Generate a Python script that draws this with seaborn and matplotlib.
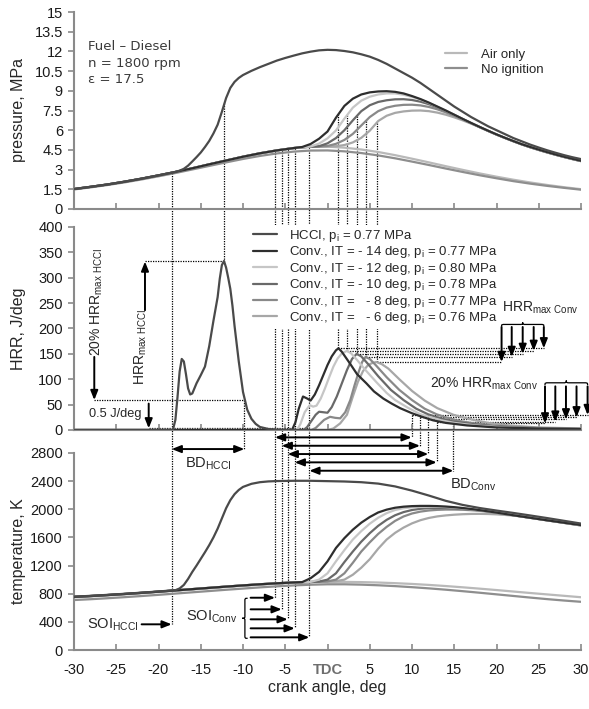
import matplotlib
matplotlib.use('Agg')
import matplotlib.pyplot as plt
import seaborn as sns
from matplotlib.path import Path
from matplotlib.patches import PathPatch

# ---------------- data ----------------
x_even = list(range(-30, 31, 2))
p_air = [1.52, 1.69, 1.87, 2.08, 2.31, 2.56, 2.82, 3.10, 3.40, 3.69, 3.98, 4.24, 4.46, 4.64, 4.74, 4.75,
         4.67, 4.53, 4.34, 4.10, 3.83, 3.55, 3.26, 2.98, 2.71, 2.46, 2.23, 2.02, 1.83, 1.66, 1.51]
p_noig = [1.49, 1.65, 1.83, 2.03, 2.25, 2.49, 2.74, 3.01, 3.28, 3.55, 3.81, 4.04, 4.23, 4.37, 4.45, 4.46,
          4.39, 4.26, 4.08, 3.86, 3.61, 3.35, 3.08, 2.82, 2.57, 2.34, 2.12, 1.93, 1.76, 1.61, 1.47]

x_hp = [-30, -28, -26, -24, -22, -20, -18, -17.5, -17, -16.5, -16, -15.5, -15, -14.5, -14, -13.5, -13,
        -12.5, -12, -11.5, -11, -10.5, -10] + list(range(-9, 31))
p_hcci = [1.52, 1.69, 1.87, 2.08, 2.31, 2.56, 2.82, 2.92, 3.06, 3.3, 3.62, 3.95, 4.3, 4.72, 5.18, 5.75, 6.42,
          7.4, 8.45, 9.22, 9.68, 9.98, 10.2,
          10.52, 10.8, 11.05, 11.3, 11.5, 11.68, 11.85, 11.98, 12.08, 12.12,
          12.1, 12.03, 11.93, 11.78, 11.6, 11.35, 11.05, 10.7, 10.35, 10.0,
          9.6, 9.15, 8.7, 8.25, 7.8, 7.4, 7.0, 6.65, 6.3, 6.0,
          5.7, 5.4, 5.15, 4.9, 4.68, 4.47, 4.28, 4.1, 3.94, 3.8]

x_pc = list(range(-30, -3, 2))
p_comp = [1.52, 1.69, 1.87, 2.08, 2.31, 2.56, 2.82, 3.10, 3.40, 3.69, 3.98, 4.24, 4.46, 4.64]
x_tail = list(range(-3, 31))
p_c14 = [4.72, 4.95, 5.35, 5.9, 6.95, 7.85, 8.4, 8.72, 8.88, 8.95,
         8.97, 8.92, 8.8, 8.6, 8.37, 8.1, 7.8, 7.5, 7.18, 6.86,
         6.55, 6.25, 5.96, 5.68, 5.42, 5.17, 4.93, 4.72, 4.52, 4.33, 4.15, 3.98, 3.82, 3.67]
p_c12 = [4.70, 4.76, 4.98, 5.38, 5.98, 6.88, 7.72, 8.25, 8.55, 8.72,
         8.8, 8.8, 8.7, 8.54, 8.34, 8.08, 7.79, 7.49, 7.17, 6.85,
         6.54, 6.24, 5.95, 5.67, 5.41, 5.16, 4.92, 4.7, 4.5, 4.31, 4.13, 3.96, 3.8, 3.65]
p_c10 = [4.70, 4.74, 4.78, 5.0, 5.4, 6.0, 6.75, 7.45, 7.9, 8.15,
         8.28, 8.35, 8.36, 8.3, 8.17, 7.98, 7.74, 7.46, 7.16, 6.85,
         6.54, 6.24, 5.95, 5.67, 5.41, 5.16, 4.92, 4.7, 4.5, 4.31, 4.13, 3.96, 3.8, 3.65]
p_c8 = [4.70, 4.74, 4.76, 4.8, 4.96, 5.26, 5.72, 6.36, 7.0, 7.45,
        7.72, 7.86, 7.93, 7.94, 7.89, 7.77, 7.59, 7.36, 7.1, 6.82,
        6.53, 6.24, 5.95, 5.67, 5.41, 5.16, 4.92, 4.7, 4.5, 4.31, 4.13, 3.96, 3.8, 3.65]
p_c6 = [4.70, 4.74, 4.76, 4.76, 4.78, 4.87, 5.07, 5.42, 5.96, 6.7,
        7.1, 7.32, 7.43, 7.49, 7.5, 7.45, 7.34, 7.18, 6.98, 6.75,
        6.5, 6.23, 5.95, 5.67, 5.41, 5.16, 4.92, 4.7, 4.5, 4.31, 4.13, 3.96, 3.8, 3.65]

# heat release rate, J/deg
x_h_hcci = [-30, -18.3, -18.0, -17.75, -17.5, -17.25, -17.0, -16.75, -16.5, -16.25, -16.0, -15.75, -15.5,
            -15.0, -14.5, -14.0, -13.5, -13.0, -12.75, -12.5, -12.25, -12.0, -11.75, -11.5, -11.25, -11.0,
            -10.5, -10.0, -9.5, -9.0, -8.5, -8.0, -7.0, -6.0, -5.0, 30]
h_hcci = [0, 0, 20, 65, 115, 140, 135, 110, 82, 70, 72, 82, 92, 108, 125, 165, 215, 262, 298, 325, 333,
          320, 300, 278, 245, 205, 135, 75, 40, 22, 12, 6, 2, 0.5, 0, 0]
x_h14 = [-30, -4.2, -3.8, -3.4, -2.9, -2.4, -2.0, -1.5, -1.0, -0.5, 0.0, 0.5, 1.0, 1.3, 1.7, 2.2, 2.7, 3.5,
         4.6, 5.5, 6.6, 7.6, 8.6, 10.0, 11.0, 12.5, 14.0, 16.5, 20.0, 25.0, 30.0]
h_c14 = [0, 0, 15, 42, 66, 62, 58, 70, 88, 108, 128, 145, 157, 161, 154, 142, 130, 110, 92, 76, 62, 52, 43,
         33, 27, 19, 14, 9, 5, 3, 2]
x_h12 = [-30, -3.6, -3.2, -2.7, -2.1, -1.7, -1.3, -0.8, -0.3, 0.2, 0.7, 1.2, 1.7, 2.3, 2.8, 3.5, 4.5, 5.8,
         7.0, 8.0, 9.5, 11.0, 12.0, 13.5, 15.0, 17.5, 21.0, 25.0, 30.0]
h_c12 = [0, 0, 12, 35, 49, 46, 48, 62, 82, 104, 125, 141, 151, 156, 151, 138, 118, 94, 73, 59, 44, 31, 26,
         19, 14, 9, 5, 3, 2]
x_h10 = [-30, -2.8, -2.4, -1.9, -1.4, -1.0, -0.5, 0.0, 0.5, 1.1, 1.7, 2.3, 2.9, 3.45, 4.0, 4.8, 6.0, 7.5,
         9.0, 10.5, 11.9, 13.0, 14.5, 16.0, 18.5, 22.0, 26.0, 30.0]
h_c10 = [0, 0, 6, 18, 30, 36, 35, 34, 45, 66, 92, 118, 140, 150, 145, 130, 106, 79, 59, 42, 31, 25, 18, 14,
         9, 5, 3, 2]
x_h8 = [-30, -1.9, -1.4, -0.9, -0.4, 0.3, 0.9, 1.5, 2.1, 2.7, 3.2, 3.7, 4.1, 4.5, 5.0, 5.7, 7.0, 8.5, 10.0,
        11.5, 12.9, 14.0, 15.5, 17.0, 19.5, 23.0, 27.0, 30.0]
h_c8 = [0, 0, 4, 12, 20, 26, 24, 23, 35, 59, 88, 115, 134, 144, 140, 128, 104, 79, 59, 42, 31, 25, 18, 14,
        9, 5, 3, 2]
x_h6 = [-30, 0.0, 0.7, 1.5, 2.3, 3.0, 3.6, 4.2, 4.8, 5.3, 5.8, 6.4, 7.2, 8.5, 10.0, 11.5, 13.0, 14.9, 16.0,
        17.5, 19.0, 21.5, 25.0, 30.0]
h_c6 = [0, 0, 3, 13, 30, 66, 95, 116, 128, 132, 134, 130, 121, 100, 77, 58, 43, 30, 25, 19, 14, 9, 5, 3]

# temperature, K
T_air = [750, 762, 776, 791, 807, 824, 842, 860, 878, 896, 913, 929, 943, 955, 964, 968,
         968, 965, 959, 950, 939, 925, 909, 891, 872, 852, 831, 810, 790, 770, 750]
T_noig = [710, 722, 736, 751, 767, 784, 802, 820, 838, 856, 873, 890, 905, 918, 928, 934,
          934, 929, 920, 908, 893, 876, 857, 836, 814, 791, 768, 745, 723, 703, 685]
x_ht = [-30, -28, -26, -24, -22, -20, -18, -17.5, -17, -16.5, -16, -15.5, -15, -14.5, -14, -13.5, -13,
        -12.5, -12, -11.5, -11, -10.5, -10, -9, -8, -7, -6] + list(range(-4, 31, 2))
T_hcci = [758, 770, 784, 799, 815, 832, 850, 875, 925, 1010, 1110, 1200, 1295, 1390, 1490, 1600, 1725,
          1870, 2015, 2130, 2215, 2275, 2318, 2362, 2385, 2396, 2401,
          2405, 2405, 2400, 2395, 2385, 2365, 2325, 2265, 2195, 2120, 2062, 2018, 1982, 1948, 1912, 1875,
          1836, 1797]
T_comp = [755, 767, 781, 796, 812, 829, 847, 865, 883, 901, 918, 934, 948, 960]
T_c14 = [965, 1020, 1110, 1260, 1450, 1590, 1710, 1810, 1890, 1955,
         1995, 2022, 2037, 2045, 2048, 2048, 2045, 2039, 2030, 2018,
         2004, 1988, 1971, 1953, 1934, 1915, 1897, 1879, 1861, 1843, 1826, 1809, 1792, 1776]
T_c12 = [962, 968, 1000, 1090, 1260, 1420, 1570, 1690, 1795, 1880,
         1945, 1990, 2015, 2028, 2034, 2036, 2035, 2031, 2024, 2014,
         2001, 1986, 1970, 1952, 1934, 1915, 1896, 1878, 1860, 1842, 1824, 1806, 1788, 1770]
T_c10 = [962, 966, 972, 1000, 1090, 1250, 1400, 1540, 1660, 1765,
         1850, 1915, 1960, 1990, 2007, 2016, 2019, 2018, 2014, 2007,
         1997, 1985, 1970, 1953, 1935, 1916, 1897, 1879, 1861, 1843, 1825, 1807, 1789, 1771]
T_c8 = [962, 966, 970, 975, 1000, 1090, 1240, 1400, 1530, 1650,
        1750, 1835, 1898, 1940, 1967, 1983, 1992, 1996, 1996, 1993,
        1987, 1978, 1966, 1951, 1934, 1916, 1897, 1879, 1861, 1843, 1825, 1807, 1789, 1771]
T_c6 = [962, 966, 970, 975, 978, 1000, 1070, 1170, 1290, 1440,
        1570, 1665, 1740, 1800, 1845, 1877, 1899, 1913, 1923, 1930,
        1934, 1935, 1933, 1928, 1920, 1910, 1897, 1881, 1864, 1846, 1828, 1810, 1792, 1775]

# characteristic angles / levels used by the annotations
soi_hcci, pk_hcci, bd_hcci = -18.44, -12.25, -9.84
soi_conv = [-6.21, -5.42, -4.71, -3.88, -2.15]
pk_conv = [1.28, 2.31, 3.45, 4.52, 5.82]
bd_conv = [9.96, 10.95, 11.93, 12.92, 14.9]
hpk_conv = [161, 156, 150, 144, 134]
lvl20_conv = [29.5, 25, 21, 16.5, 13]
p_at_soi = [4.45, 4.52, 4.58, 4.65, 4.74]
p_at_pk = [7.2, 7.14, 7.07, 6.69, 6.57]
T_soi_arrows = [743, 578, 436, 308, 180]
T_bd_rows = [3022, 2903, 2785, 2667, 2548]
x_arr_max = [25.6, 24.4, 23.1, 21.8, 20.6]
x_arr_20 = [30.78, 29.47, 28.22, 26.96, 25.74]

xticks = [-30, -25, -20, -15, -10, -5, 0, 5, 10, 15, 20, 25, 30]
xticklabels = ['-30', '-25', '-20', '-15', '-10', '-5', 'TDC', '5', '10', '15', '20', '25', '30']

conv_labels = ['Conv., IT = - 14 deg, p$_{i}$ = 0.77 MPa', 'Conv., IT = - 12 deg, p$_{i}$ = 0.80 MPa',
               'Conv., IT = - 10 deg, p$_{i}$ = 0.78 MPa', 'Conv., IT =   - 8 deg, p$_{i}$ = 0.77 MPa',
               'Conv., IT =   - 6 deg, p$_{i}$ = 0.76 MPa']
hcci_label = 'HCCI, p$_{i}$ = 0.77 MPa'

# ---------------- styling ----------------
sns.set_style('white')
plt.rcParams['font.family'] = ['Liberation Sans', 'DejaVu Sans']
plt.rcParams['mathtext.default'] = 'regular'

c_hcci, c14, c12, c10, c8, c6 = '#4a4a4a', '#2e2e2e', '#c6c6c6', '#696969', '#898989', '#a7a7a7'
c_air, c_noig = '#b9b9b9', '#8e8e8e'
conv_cols = [c14, c12, c10, c8, c6]
SP = '#8a8a8a'
LW = 1.6

fig = plt.figure(figsize=(5.89, 7.09), dpi=100)
def rect(bot, top):
    return [74 / 589, 1 - bot / 709, 507 / 589, (bot - top) / 709]
ax1 = fig.add_axes(rect(209, 12))
ax2 = fig.add_axes(rect(430, 227))
ax3 = fig.add_axes(rect(650, 453))
YMAX = {'p': 15, 'h': 400, 't': 2800}
AX = {'p': ax1, 'h': ax2, 't': ax3}

for ax, key, step in [(ax1, 'p', 1.5), (ax2, 'h', 50), (ax3, 't', 400)]:
    ax.set_facecolor('none')
    ax.set_xlim(-30, 30)
    ax.set_ylim(0, YMAX[key])
    ax.set_xticks(xticks)
    n = int(round(YMAX[key] / step))
    yt = [step * i for i in range(n + 1)]
    ax.set_yticks(yt)
    ax.set_yticklabels([('%g' % v) for v in yt])
    for s in ['top', 'right']:
        ax.spines[s].set_visible(False)
    for s in ['left', 'bottom']:
        ax.spines[s].set_color(SP)
        ax.spines[s].set_linewidth(1.5)
    ax.tick_params(axis='x', bottom=True, direction='in', length=4.5, width=1.2, color=SP, labelsize=10.5,
                   labelcolor='#1a1a1a', pad=9)
    ax.tick_params(axis='y', left=True, direction='out', length=4, width=1.2, color=SP, labelsize=10.5,
                   labelcolor='#1a1a1a', pad=4)
    ax.yaxis.set_label_coords(-0.095, 0.5)
ax1.tick_params(axis='x', labelbottom=False)
ax2.tick_params(axis='x', labelbottom=False)
ax3.set_xticklabels(xticklabels)
for lbl in ax3.get_xticklabels():
    if lbl.get_text() == 'TDC':
        lbl.set_fontweight('bold')
        lbl.set_color('#6e6e6e')

ax1.set_ylabel('pressure, MPa', fontsize=11.5)
ax2.set_ylabel('HRR, J/deg', fontsize=11.5)
ax3.set_ylabel('temperature, K', fontsize=11.5)
ax3.set_xlabel('crank angle, deg', fontsize=11.5)
ax3.xaxis.set_label_coords(0.5, -0.15)

def line(ax, x, y, c, z=3):
    sns.lineplot(x=x, y=y, ax=ax, color=c, linewidth=LW, estimator=None, sort=False, zorder=z)
    return ax.get_lines()[-1]

# ---------------- pressure ----------------
h_air = line(ax1, x_even, p_air, c_air)
h_noig = line(ax1, x_even, p_noig, c_noig)
p_conv = [p_c14, p_c12, p_c10, p_c8, p_c6]
for pc, col in list(zip(p_conv, conv_cols))[::-1]:
    line(ax1, x_pc + x_tail, p_comp + pc, col)
line(ax1, x_hp, p_hcci, c_hcci, 4)

leg1 = ax1.legend([h_air, h_noig], ['Air only', 'No ignition'], loc='upper left',
                  bbox_to_anchor=(0.732, 0.815), frameon=False, fontsize=9.5, handlelength=1.65,
                  handletextpad=1.1, borderpad=0, borderaxespad=0, labelspacing=0.2)
for t, yv in zip(['Fuel \u2013 Diesel', 'n = 1800 rpm', '\u03b5 = 17.5'], [12.36, 11.1, 9.88]):
    ax1.text(-28.34, yv, t, fontsize=9.5, color='#3a3a3a', va='center', ha='left', family='DejaVu Sans')

# ---------------- HRR ----------------
h_conv_lines = []
hx = [x_h14, x_h12, x_h10, x_h8, x_h6]
hy = [h_c14, h_c12, h_c10, h_c8, h_c6]
for xx, yy, col in list(zip(hx, hy, conv_cols))[::-1]:
    h_conv_lines.append(line(ax2, xx, yy, col))
h_conv_lines = h_conv_lines[::-1]
h_hc = line(ax2, x_h_hcci, h_hcci, c_hcci, 4)
leg2 = ax2.legend([h_hc] + h_conv_lines, [hcci_label] + conv_labels, loc='upper left',
                  bbox_to_anchor=(0.347, 1.008), frameon=True, fancybox=False, facecolor='white',
                  edgecolor='none', framealpha=1, fontsize=9.5, handlelength=1.85, handletextpad=0.9,
                  borderpad=0.2, borderaxespad=0, labelspacing=0.03)
leg2.set_zorder(20)

# ---------------- temperature ----------------
line(ax3, x_even, T_air, c_air)
line(ax3, x_even, T_noig, c_noig)
T_conv = [T_c14, T_c12, T_c10, T_c8, T_c6]
for tc, col in list(zip(T_conv, conv_cols))[::-1]:
    line(ax3, x_pc + x_tail, T_comp + tc, col)
line(ax3, x_ht, T_hcci, c_hcci, 4)

# ---------------- annotations ----------------
p1 = ax1.get_position()
def tf(key, v):
    pa = AX[key].get_position()
    fy = pa.y0 + pa.height * v / YMAX[key]
    return (fy - p1.y0) / p1.height

DOT = dict(color='k', lw=0.9, ls=(0, (1, 1)), clip_on=False)
def vline(x, ka, va, kb, vb):
    ax1.plot([x, x], [tf(ka, va), tf(kb, vb)], transform=ax1.get_xaxis_transform(), zorder=1, **DOT)

def hline(ax, x0, x1, y):
    ax.plot([x0, x1], [y, y], zorder=2, **DOT)

AST = '-|>,head_length=0.5,head_width=0.2'
DST = '<|-|>,head_length=0.5,head_width=0.2'
def arrow(ax, xy0, xy1, style=AST):
    ax.annotate('', xy=xy1, xytext=xy0, annotation_clip=False,
                arrowprops=dict(arrowstyle=style, color='k', lw=1.4, mutation_scale=11,
                                shrinkA=0, shrinkB=0))

def hbrace(ax, x0, x1, y0, h):
    xm, ym, w = (x0 + x1) / 2, y0 + h / 2, (x1 - x0) * 0.1
    v = [(x0, y0), (x0, ym), (x0, ym), (x0 + w, ym), (xm - w, ym), (xm, ym), (xm, ym), (xm, y0 + h),
         (xm, ym), (xm, ym), (xm + w, ym), (x1 - w, ym), (x1, ym), (x1, ym), (x1, y0)]
    C, L = Path.CURVE4, Path.LINETO
    codes = [Path.MOVETO, C, C, C, L, C, C, C, C, C, C, L, C, C, C]
    ax.add_patch(PathPatch(Path(v, codes), fc='none', ec='k', lw=0.9, clip_on=False))

def vbrace(ax, y0, y1, x0, d):
    ym, xm, w = (y0 + y1) / 2, x0 - d / 2, (y1 - y0) * 0.08
    v = [(x0, y0), (xm, y0), (xm, y0), (xm, y0 + w), (xm, ym - w), (xm, ym), (xm, ym), (x0 - d, ym),
         (xm, ym), (xm, ym), (xm, ym + w), (xm, y1 - w), (xm, y1), (xm, y1), (x0, y1)]
    C, L = Path.CURVE4, Path.LINETO
    codes = [Path.MOVETO, C, C, C, L, C, C, C, C, C, C, L, C, C, C]
    ax.add_patch(PathPatch(Path(v, codes), fc='none', ec='k', lw=0.9, clip_on=False))

# HCCI
vline(soi_hcci, 'p', 2.77, 't', 365)
vline(pk_hcci, 'p', 8.05, 'h', 333)
vline(bd_hcci, 'h', 59, 't', 2856)
hline(ax2, -21.6, pk_hcci, 333)
hline(ax2, -27.6, bd_hcci, 59)
hline(ax2, -21.16, -2.15, 3.3)
arrow(ax2, (-21.6, 236), (-21.6, 332))
arrow(ax2, (-27.6, 144), (-27.6, 59))
arrow(ax2, (-21.16, 52), (-21.16, 3.3))
ax2.text(-22.05, 165, 'HRR$_{max\\ HCCI}$', rotation=90, fontsize=10, ha='center', va='center')
ax2.text(-27.35, 253, '20% HRR$_{max\\ HCCI}$', rotation=90, fontsize=10, ha='center', va='center')
ax2.text(-25.1, 31.5, '0.5 J/deg', fontsize=9.2, ha='center', va='center')
arrow(ax3, (-22.0, 365), (soi_hcci, 365))
ax3.text(-25.4, 365, 'SOI$_{HCCI}$', fontsize=10.5, ha='center', va='center')
arrow(ax3, (soi_hcci, 2856), (bd_hcci, 2856), DST)
ax3.text(-14.1, 2653, 'BD$_{HCCI}$', fontsize=10.5, ha='center', va='center')

# Conventional
for i in range(5):
    vline(soi_conv[i], 'p', p_at_soi[i], 't', T_soi_arrows[i])
    vline(pk_conv[i], 'p', p_at_pk[i], 'h', hpk_conv[i])
    vline(bd_conv[i], 'h', lvl20_conv[i], 't', T_bd_rows[i])
    hline(ax2, pk_conv[i], x_arr_max[i], hpk_conv[i])
    hline(ax2, bd_conv[i], x_arr_20[i], lvl20_conv[i])
    arrow(ax2, (x_arr_max[i], 203), (x_arr_max[i], hpk_conv[i]))
    arrow(ax2, (x_arr_20[i], 86), (x_arr_20[i], lvl20_conv[i]))
    arrow(ax3, (-9.1, T_soi_arrows[i]), (soi_conv[i], T_soi_arrows[i]))
    arrow(ax3, (soi_conv[i], T_bd_rows[i]), (bd_conv[i], T_bd_rows[i]), DST)
hbrace(ax2, 20.6, 25.6, 204, 8)
hbrace(ax2, 25.74, 30.78, 88.5, 9)
vbrace(ax3, 166, 735, -9.45, 0.65)
ax2.text(25.2, 240, 'HRR$_{max\\ Conv}$', fontsize=10, ha='center', va='center')
ax2.text(18.5, 92, '20% HRR$_{max\\ Conv}$', fontsize=10, ha='center', va='center')
ax3.text(-13.7, 473, 'SOI$_{Conv}$', fontsize=10.5, ha='center', va='center')
ax3.text(17.2, 2345, 'BD$_{Conv}$', fontsize=10.5, ha='center', va='center')

fig.savefig('out.png', dpi=100)
